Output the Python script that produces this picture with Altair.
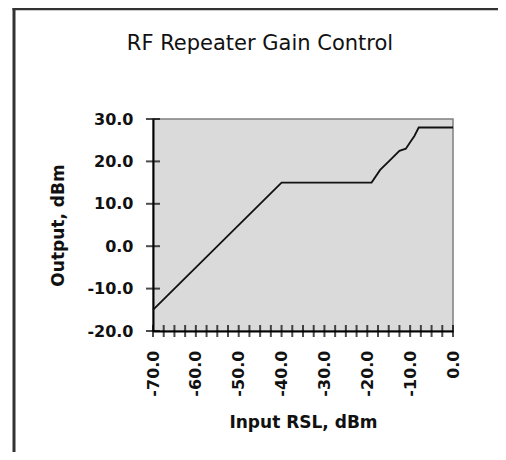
import altair as alt
import pandas as pd
import numpy as np

title_text = "RF Repeater Gain Control"
x_title = "Input RSL, dBm"
y_title = "Output, dBm"

input_rsl = [-70, -40, -19, -17, -14.5, -12.5, -11, -10, -9, -8, -7.5, 0]
output_dbm = [-15, 15, 15, 18, 20.5, 22.5, 23, 24.5, 26, 28, 28, 28]

x_label_values = [-70, -60, -50, -40, -30, -20, -10, 0]
y_label_values = [-20, -10, 0, 10, 20, 30]
x_tick_values = [float(v) for v in np.arange(-70, 0.1, 2.5)]

W, H = 300, 212
FONT = "DejaVu Sans"
xscale = alt.Scale(domain=[-70, 0], nice=False, zero=False)
yscale = alt.Scale(domain=[-20, 30], nice=False, zero=False)
label_expr = "replace(format(datum.value, '.1f'), '\u2212', '-')"

x_axis = alt.Axis(
    values=x_label_values, labelExpr=label_expr, labelAngle=270,
    labelAlign="right", labelBaseline="middle", labelPadding=19,
    labelFlush=False, labelOverlap=False, ticks=False, grid=False,
    domainColor="black", domainWidth=2,
    labelFont=FONT, labelFontSize=16, labelFontWeight="bold", labelColor="#111",
    title=x_title, titleX=W / 2, titleY=91, titleAlign="center", titleBaseline="middle",
    titleFont=FONT, titleFontSize=17, titleFontWeight="bold", titleColor="#111")
y_axis = alt.Axis(
    values=y_label_values, labelExpr=label_expr, labelPadding=20,
    labelFlush=False, labelOverlap=False, ticks=False, grid=False,
    domainColor="black", domainWidth=2,
    labelFont=FONT, labelFontSize=16, labelFontWeight="bold", labelColor="#111",
    title=y_title, titleX=-95, titleY=H / 2, titleAngle=270, titleAlign="center",
    titleBaseline="middle",
    titleFont=FONT, titleFontSize=17, titleFontWeight="bold", titleColor="#111")

df = pd.DataFrame({"x": input_rsl, "y": output_dbm})

line = alt.Chart(df).mark_line(color="#111111", strokeWidth=1.8).encode(
    x=alt.X("x:Q", scale=xscale, axis=x_axis),
    y=alt.Y("y:Q", scale=yscale, axis=y_axis),
)

xt = alt.Chart(pd.DataFrame({"x": x_tick_values})).mark_tick(
    color="black", thickness=2, size=12, orient="vertical").encode(
    x=alt.X("x:Q", scale=xscale, axis=x_axis), y=alt.value(H))

yt = alt.Chart(pd.DataFrame({"y": y_label_values})).mark_tick(
    color="black", thickness=2, size=14, orient="horizontal").encode(
    y=alt.Y("y:Q", scale=yscale, axis=y_axis), x=alt.value(0))

one = pd.DataFrame({"a": [0]})
frame_left = alt.Chart(one).mark_rule(color="#333333", strokeWidth=3).encode(
    x=alt.value(-139), y=alt.value(-111.5), y2=alt.value(333))
frame_top = alt.Chart(one).mark_rule(color="#333333", strokeWidth=2.5).encode(
    y=alt.value(-110), x=alt.value(-140.5), x2=alt.value(345))
title = alt.Chart(one).mark_text(
    text=title_text, font=FONT, fontSize=21, color="#111111", baseline="alphabetic").encode(
    x=alt.value(107), y=alt.value(-69.5))

chart = alt.layer(line, xt, yt, frame_left, frame_top, title).properties(
    width=W, height=H,
    autosize=alt.AutoSizeParams(type="none"),
    padding={"left": 145, "top": 111, "right": 45, "bottom": 121},
    background="white",
).configure_view(fill="#dadada", stroke="#808080", strokeWidth=1.5)

chart.save("out.html", embed_options={"renderer": "svg", "actions": False})
